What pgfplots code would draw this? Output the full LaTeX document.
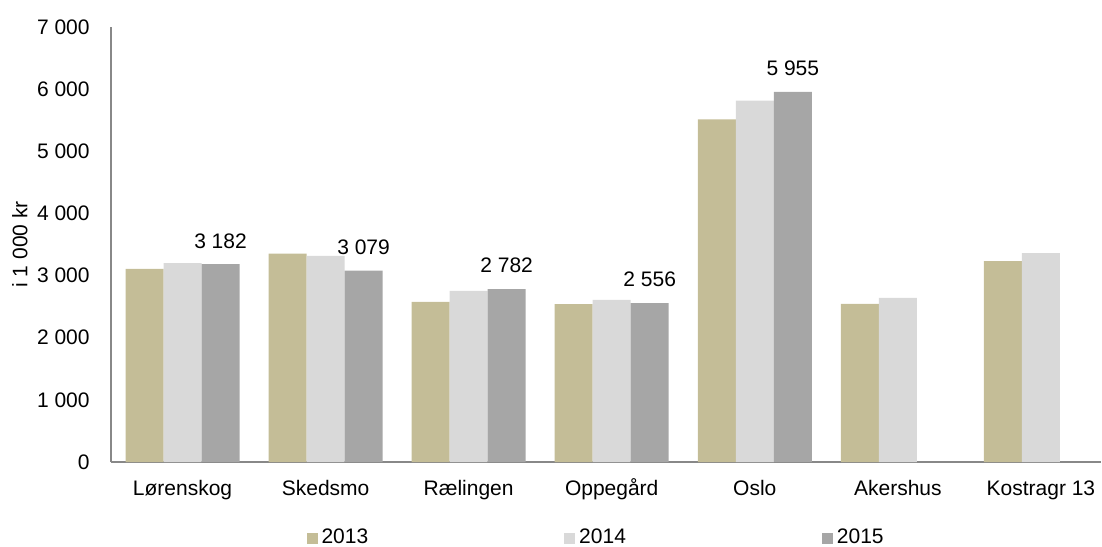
\documentclass[border=0pt]{standalone}
\usepackage{pgfplots}
\pgfplotsset{compat=1.18}
\usepackage{fontspec}
\setmainfont{Liberation Sans}
\definecolor{c2013}{HTML}{C4BD97}
\definecolor{c2014}{HTML}{D9D9D9}
\definecolor{c2015}{HTML}{A6A6A6}
\definecolor{axisgray}{HTML}{888888}

\begin{document}
\fontsize{10.5}{12}\selectfont
\begin{tikzpicture}
\useasboundingbox (-55.5pt,-42pt) rectangle (495.5pt,231pt);
\begin{axis}[
   scale only axis, width=495pt, height=217.6pt,
   xmin=-0.5, xmax=6.42, ymin=0, ymax=7000,
   axis lines=left, axis line style={-, draw=axisgray, line width=0.9pt},
   ybar=0pt, bar width=19pt,
   major tick length=0pt,
   xtick={0,...,6},
   xticklabels={Lørenskog, Skedsmo, Rælingen, Oppegård, Oslo, Akershus, Kostragr 13},
   ytick={0,1000,...,7000},
   yticklabels={0,1 000,2 000,3 000,4 000,5 000,6 000,7 000},
   xticklabel style={anchor=base, inner sep=0pt, yshift=-16.5pt},
   yticklabel style={anchor=east, inner sep=0pt, xshift=-10.5pt},
   ylabel={i 1 000 kr},
   ylabel style={at={(axis description cs:-0.092,0.5)}, anchor=center},
   legend style={at={(axis description cs:0.491,-0.175)}, anchor=center,
      draw=none, legend columns=3,
      /tikz/every even column/.append style={column sep=96pt}},
   legend image code/.code={\fill[#1] (1pt,-2.75pt) rectangle (6.5pt,2.75pt);},
]
\addplot[fill=c2013, draw=none] coordinates {
   (0,3106) (1,3352) (2,2576) (3,2539) (4,5512) (5,2544) (6,3230)
};
\addlegendentry{2013}
\addplot[fill=c2014, draw=none] coordinates {
   (0,3198) (1,3315) (2,2753) (3,2608) (4,5811) (5,2640) (6,3358)
};
\addlegendentry{2014}
\addplot[fill=c2015, draw=none,
   point meta=explicit symbolic,
   nodes near coords={\pgfplotspointmeta},
   nodes near coords style={anchor=south, inner sep=0pt, yshift=7.75pt, text=black}]
   coordinates {
   (0,3182) [3 182]
   (1,3079) [3 079]
   (2,2782) [2 782]
   (3,2556) [2 556]
   (4,5955) [5 955]
};
\addlegendentry{2015}
\end{axis}
\end{tikzpicture}
\end{document}
